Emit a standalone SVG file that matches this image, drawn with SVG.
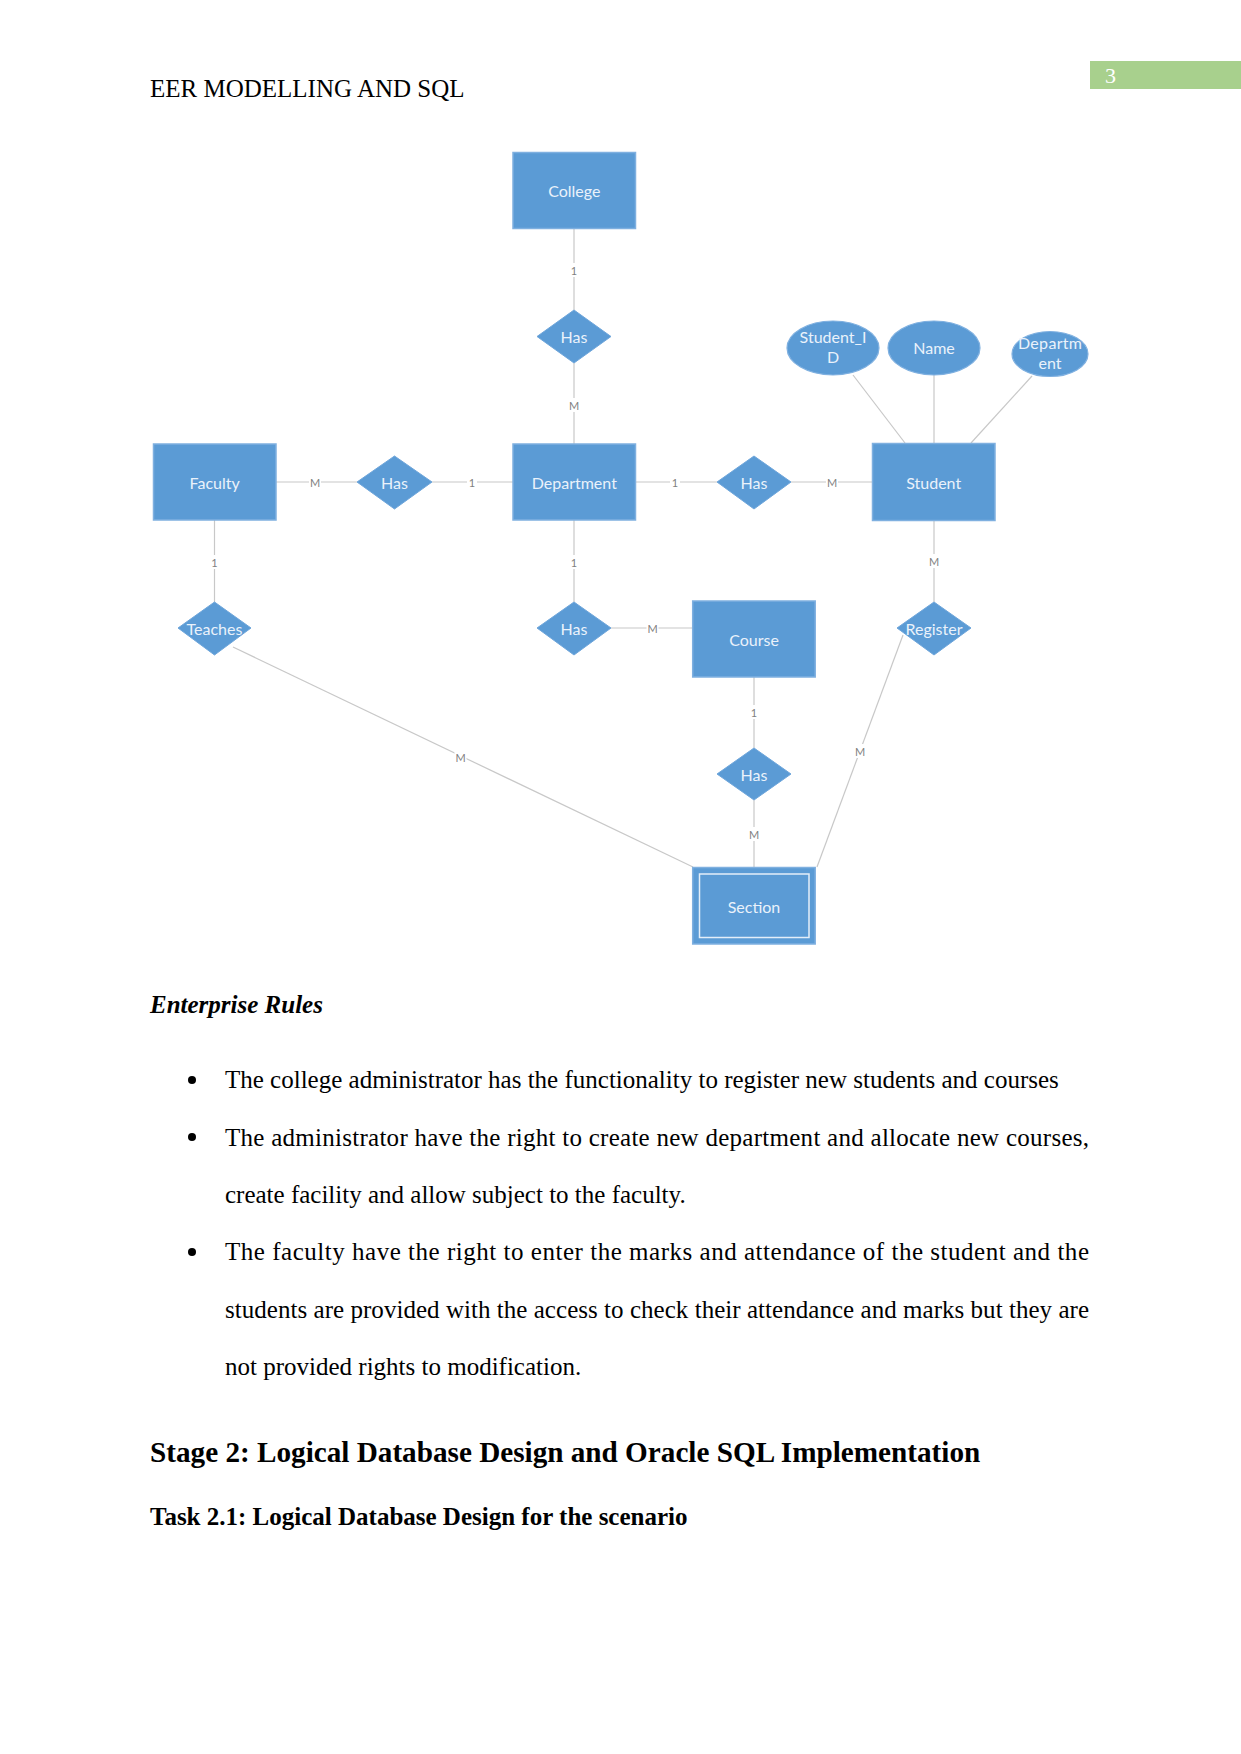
<svg xmlns="http://www.w3.org/2000/svg" width="1241" height="1754" viewBox="0 0 1241 1754">
<style>
.ent{fill:#5B9BD5;stroke:#7FB0E0;stroke-width:1.5}
.rel{fill:#5B9BD5;stroke:#6FA6DB;stroke-width:1}
.att{fill:#5B9BD5;stroke:#7FB0E0;stroke-width:1.2}
.nt{font-family:Lato,"Noto Sans",sans-serif;font-size:16px;fill:#EAF2FB;text-anchor:middle;dominant-baseline:central}
.rt{font-family:Lato,"Noto Sans",sans-serif;font-size:16px;fill:#EAF2FB;text-anchor:middle;dominant-baseline:central}
.at{font-family:Lato,"Noto Sans",sans-serif;font-size:16px;fill:#EAF2FB;text-anchor:middle}
.ln{stroke:#C8C8C8;stroke-width:1.2;fill:none}
.lb{font-family:Lato,"Noto Sans",sans-serif;font-size:11px;fill:#7F7F7F;text-anchor:middle;dominant-baseline:central}
.lbg{fill:#FFFFFF}
.body{font-family:"Liberation Serif","Times New Roman",serif;font-size:25px;fill:#000}
.h2{font-family:"Liberation Serif","Times New Roman",serif;font-size:29.2px;font-weight:bold;fill:#000}
</style>
<rect width="1241" height="1754" fill="#FFFFFF"/>

<!-- Header -->
<g id="header">
<text x="150" y="97" class="body">EER MODELLING AND SQL</text>
<rect x="1090" y="61" width="151" height="28" fill="#A8D08D"/>
<text x="1105" y="83" font-family="Liberation Serif, serif" font-size="22" fill="#FFFFFF">3</text>
</g>

<!-- Connectors -->
<g id="connectors">
<line class="ln" x1="574" y1="228" x2="574" y2="310"/>
<line class="ln" x1="574" y1="363" x2="574" y2="444"/>
<line class="ln" x1="276" y1="482" x2="357" y2="482"/>
<line class="ln" x1="432" y1="482" x2="513" y2="482"/>
<line class="ln" x1="636" y1="482" x2="717" y2="482"/>
<line class="ln" x1="791" y1="482" x2="872" y2="482"/>
<line class="ln" x1="214.5" y1="520" x2="214.5" y2="602"/>
<line class="ln" x1="574" y1="520" x2="574" y2="602"/>
<line class="ln" x1="934" y1="520" x2="934" y2="602"/>
<line class="ln" x1="611" y1="628" x2="693" y2="628"/>
<line class="ln" x1="754" y1="677" x2="754" y2="748"/>
<line class="ln" x1="754" y1="800" x2="754" y2="867"/>
<line class="ln" x1="233" y1="647" x2="693" y2="867"/>
<line class="ln" x1="903" y1="635" x2="817" y2="867"/>
<line class="ln" x1="853" y1="375" x2="905" y2="443"/>
<line class="ln" x1="934" y1="375" x2="934" y2="443"/>
<line class="ln" x1="1032" y1="376" x2="971" y2="443"/>
<g>
<rect class="lbg" x="569" y="263" width="10" height="14"/><text class="lb" x="574" y="270">1</text>
<rect class="lbg" x="568" y="398" width="12" height="14"/><text class="lb" x="574" y="405">M</text>
<rect class="lbg" x="309" y="475" width="12" height="14"/><text class="lb" x="315" y="482">M</text>
<rect class="lbg" x="467" y="475" width="10" height="14"/><text class="lb" x="472" y="482">1</text>
<rect class="lbg" x="670" y="475" width="10" height="14"/><text class="lb" x="675" y="482">1</text>
<rect class="lbg" x="826" y="475" width="12" height="14"/><text class="lb" x="832" y="482">M</text>
<rect class="lbg" x="209.5" y="555" width="10" height="14"/><text class="lb" x="214.5" y="562">1</text>
<rect class="lbg" x="569" y="555" width="10" height="14"/><text class="lb" x="574" y="562">1</text>
<rect class="lbg" x="928" y="554" width="12" height="14"/><text class="lb" x="934" y="561">M</text>
<rect class="lbg" x="646.5" y="621" width="12" height="14"/><text class="lb" x="652.5" y="628">M</text>
<rect class="lbg" x="749" y="705" width="10" height="14"/><text class="lb" x="754" y="712">1</text>
<rect class="lbg" x="748" y="827" width="12" height="14"/><text class="lb" x="754" y="834">M</text>
<rect class="lbg" x="454.5" y="750" width="12" height="14"/><text class="lb" x="460.5" y="757">M</text>
<rect class="lbg" x="854" y="744" width="12" height="14"/><text class="lb" x="860" y="751">M</text>
</g>
</g>

<!-- Entities -->
<g id="college"><rect class="ent" x="513" y="152.5" width="122.5" height="76"/><text class="nt" x="574.3" y="190.5">College</text></g>
<g id="faculty"><rect class="ent" x="153.5" y="444" width="122.5" height="76"/><text class="nt" x="214.7" y="482">Faculty</text></g>
<g id="department"><rect class="ent" x="513" y="444" width="122.5" height="76"/><text class="nt" x="574.3" y="482">Department</text></g>
<g id="student"><rect class="ent" x="872.5" y="443.5" width="122.5" height="77"/><text class="nt" x="933.7" y="482">Student</text></g>
<g id="course"><rect class="ent" x="692.7" y="601" width="122.5" height="76"/><text class="nt" x="754" y="639">Course</text></g>
<g id="section"><rect class="ent" x="692.7" y="867.5" width="122.5" height="76.5"/><rect x="699.5" y="874" width="109.5" height="63.5" fill="none" stroke="#E3EEF9" stroke-width="1.5"/><text class="nt" x="754" y="906">Section</text></g>

<!-- Relationships -->
<g id="has-college"><polygon class="rel" points="574,310 611,336.5 574,363 537,336.5"/><text class="rt" x="574" y="336">Has</text></g>
<g id="has-faculty"><polygon class="rel" points="394.5,456 432,482 394.5,509 357,482"/><text class="rt" x="394.5" y="482">Has</text></g>
<g id="has-student"><polygon class="rel" points="754,456 791,482 754,509 717,482"/><text class="rt" x="754" y="482">Has</text></g>
<g id="teaches"><polygon class="rel" points="214.5,602 251,628 214.5,655 178,628"/><text class="rt" x="214.5" y="628">Teaches</text></g>
<g id="has-course"><polygon class="rel" points="574,602 611,628 574,655 537,628"/><text class="rt" x="574" y="628">Has</text></g>
<g id="register"><polygon class="rel" points="934,602 971,628 934,655 897,628"/><text class="rt" x="934" y="628">Register</text></g>
<g id="has-section"><polygon class="rel" points="754,748 791,774 754,800 717,774"/><text class="rt" x="754" y="774">Has</text></g>

<!-- Attributes -->
<g id="attr-student-id"><ellipse class="att" cx="833" cy="348" rx="46" ry="27"/><text class="at" x="833" y="343">Student_I</text><text class="at" x="833" y="363">D</text></g>
<g id="attr-name"><ellipse class="att" cx="934" cy="348" rx="46" ry="27"/><text class="at" x="934" y="354">Name</text></g>
<g id="attr-department"><ellipse class="att" cx="1050" cy="354" rx="38" ry="22.5"/><text class="at" x="1050" y="349" textLength="64" lengthAdjust="spacing">Departm</text><text class="at" x="1050" y="369">ent</text></g>

<!-- Body text -->
<g id="body">
<text x="150" y="1013" class="body" font-weight="bold" font-style="italic">Enterprise Rules</text>
<circle cx="192" cy="1080" r="4" fill="#000"/>
<text x="225" y="1088" class="body">The college administrator has the functionality to register new students and courses</text>
<circle cx="192" cy="1137" r="4" fill="#000"/>
<text x="225" y="1146" class="body" textLength="864" lengthAdjust="spacing">The administrator have the right to create new department and allocate new courses,</text>
<text x="225" y="1203" class="body">create facility and allow subject to the faculty.</text>
<circle cx="192" cy="1252" r="4" fill="#000"/>
<text x="225" y="1260" class="body" textLength="864" lengthAdjust="spacing">The faculty have the right to enter the marks and attendance of the student and the</text>
<text x="225" y="1318" class="body" textLength="864" lengthAdjust="spacing">students are provided with the access to check their attendance and marks but they are</text>
<text x="225" y="1375" class="body">not provided rights to modification.</text>
<text x="150" y="1462" class="h2">Stage 2: Logical Database Design and Oracle SQL Implementation</text>
<text x="150" y="1525" class="body" font-weight="bold">Task 2.1: Logical Database Design for the scenario</text>
</g>
</svg>
